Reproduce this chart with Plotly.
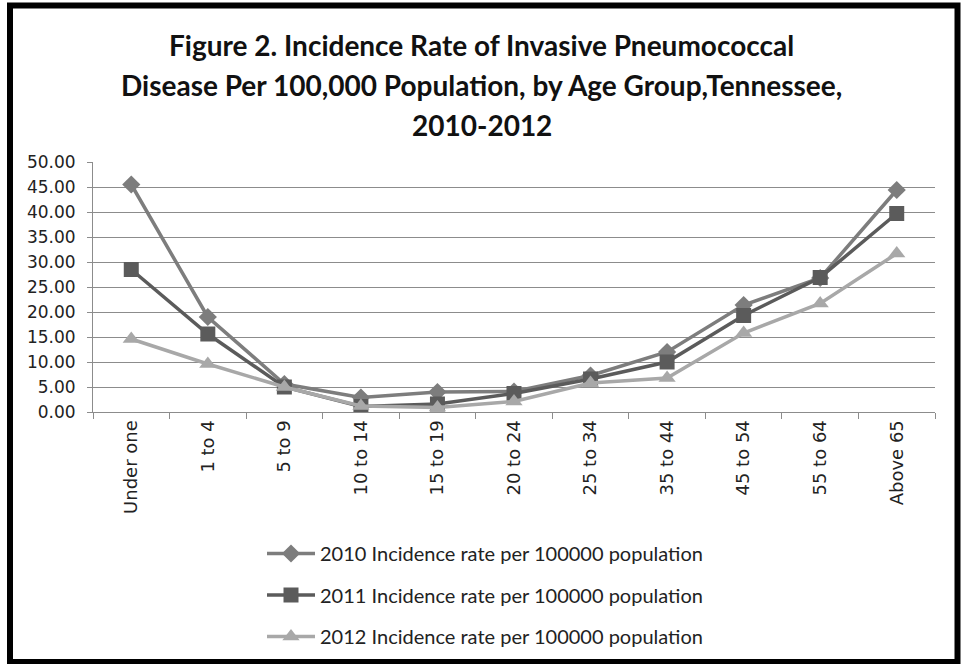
import plotly.graph_objects as go

# Age groups and incidence rates per 100,000 population
age_groups = ["Under one", "1 to 4", "5 to 9", "10 to 14", "15 to 19", "20 to 24",
              "25 to 34", "35 to 44", "45 to 54", "55 to 64", "Above 65"]
rate_2010 = [45.5, 19.0, 5.6, 2.9, 4.0, 4.1, 7.3, 12.0, 21.4, 26.8, 44.4]
rate_2011 = [28.5, 15.6, 5.0, 1.1, 1.6, 3.7, 6.6, 10.0, 19.3, 26.9, 39.7]
rate_2012 = [14.6, 9.6, 5.0, 1.2, 0.9, 2.1, 5.8, 6.8, 15.8, 21.7, 31.7]

series_names = [
    "2010 Incidence rate per 100000 population",
    "2011 Incidence rate per 100000 population",
    "2012 Incidence rate per 100000 population",
]
title_lines = [
    "Figure 2. Incidence Rate of Invasive Pneumococcal",
    "Disease Per 100,000 Population, by Age Group,Tennessee,",
    "2010-2012",
]

W, H = 963, 664
L, R, T, B = 93, 28, 162, 252
PW, PH = W - L - R, H - T - B


def px_x(x):
    return (x - L) / PW


def px_y(y):
    return (H - B - y) / PH


styles = [
    dict(color="#7d7d7d", symbol="diamond", size=14),
    dict(color="#5b5b5b", symbol="square", size=15),
    dict(color="#a8a8a8", symbol="triangle-up", size=15),
]

fig = go.Figure()
for i, (name, vals, st) in enumerate(zip(series_names, [rate_2010, rate_2011, rate_2012], styles)):
    fig.add_trace(go.Scatter(
        x=age_groups, y=vals, name=name, mode="lines+markers",
        legendgroup=f"g{i}",
        line=dict(color=st["color"], width=3.5),
        marker=dict(color=st["color"], symbol=st["symbol"], size=st["size"],
                    line=dict(width=0)),
    ))

title_font = dict(family="Lato", size=28, color="#111111")
for line, yc in zip(title_lines, [45, 85, 125]):
    fig.add_annotation(text=f"<b>{line}</b>", xref="paper", yref="paper",
                       x=px_x(W / 2), y=px_y(yc), showarrow=False,
                       xanchor="center", yanchor="middle", font=title_font)

# Outer frame
fig.add_shape(type="rect", xref="paper", yref="paper",
              x0=px_x(10), x1=px_x(957.5), y0=px_y(662), y1=px_y(5.5),
              line=dict(color="black", width=6), fillcolor="rgba(0,0,0,0)",
              layer="above")

fig.update_layout(
    width=W, height=H,
    margin=dict(l=L, r=R, t=T, b=B, autoexpand=False),
    paper_bgcolor="white", plot_bgcolor="white",
    showlegend=True,
    legend=dict(x=px_x(262), y=px_y(534), xanchor="left", yanchor="top",
                orientation="v", tracegroupgap=12.5, itemwidth=48,
                font=dict(family="Lato", size=20, color="#222222"),
                bgcolor="rgba(0,0,0,0)"),
    xaxis=dict(type="category", showgrid=False, showline=True,
               linecolor="#8c8c8c", linewidth=1,
               ticks="outside", tickson="boundaries", ticklen=6,
               tickcolor="#8c8c8c", tickangle=-90,
               tickfont=dict(family="DejaVu Sans", size=18, color="#222222"),
               range=[-0.5, len(age_groups) - 0.5]),
    yaxis=dict(range=[0, 50], dtick=5, tickformat=".2f",
               showgrid=True, gridcolor="#8c8c8c", gridwidth=1,
               showline=True, linecolor="#8c8c8c", linewidth=1,
               ticks="outside", ticklen=5, tickcolor="#8c8c8c",
               ticklabelstandoff=8, zeroline=False,
               tickfont=dict(family="DejaVu Sans", size=17, color="#222222")),
)

fig.write_html("out.html")
